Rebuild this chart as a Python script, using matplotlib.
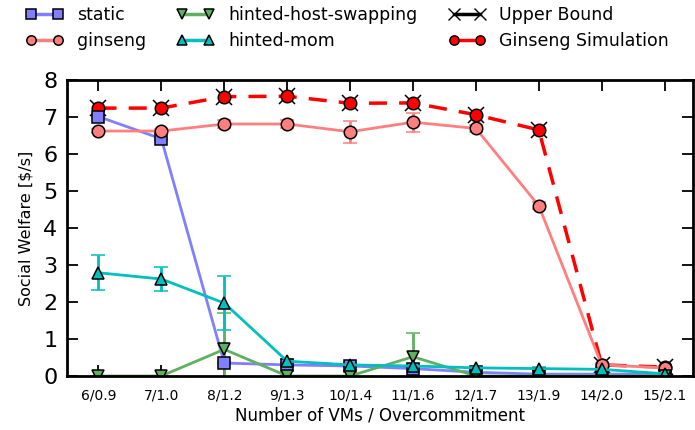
import matplotlib
matplotlib.use("Agg")
import matplotlib.pyplot as plt
from matplotlib.lines import Line2D
import numpy as np

labels = ["6/0.9", "7/1.0", "8/1.2", "9/1.3", "10/1.4", "11/1.6", "12/1.7", "13/1.9", "14/2.0", "15/2.1"]

static = [7.01, 6.41, 0.35, 0.30, 0.27, 0.20, 0.10, 0.05, 0.05, 0.05]
static_err = [0.03, 0.03, 0.03, 0.03, 0.03, 0.03, 0.02, 0.02, 0.02, 0.02]

ginseng = [6.62, 6.62, 6.81, 6.81, 6.60, 6.86, 6.69, 4.60, 0.30, 0.22]
ginseng_err = [0.05, 0.05, 0.10, 0.10, 0.29, 0.26, 0.10, 0.10, 0.05, 0.05]

hinted_swap = [0.0, 0.0, 0.72, 0.0, 0.0, 0.52, 0.0, 0.0, 0.0, 0.0]
hinted_swap_err = [0.0, 0.0, 0.98, 0.0, 0.0, 0.64, 0.0, 0.0, 0.0, 0.0]

hinted_mom = [2.79, 2.62, 1.97, 0.40, 0.30, 0.27, 0.22, 0.20, 0.18, 0.06]
hinted_mom_err = [0.47, 0.33, 0.73, 0.05, 0.05, 0.05, 0.03, 0.03, 0.03, 0.02]

upper_bound = [7.24, 7.24, 7.55, 7.56, 7.37, 7.38, 7.06, 6.65, 0.30, 0.24]
simulation = [7.24, 7.24, 7.55, 7.56, 7.37, 7.38, 7.06, 6.65, 0.30, 0.24]

x = np.arange(len(labels))

fig = plt.figure(figsize=(6.95, 4.30), dpi=100)
ax = fig.add_axes([0.0964, 0.1256, 0.9006, 0.6884])

styles = [
    ("static", static, static_err, "#7f7fff", "s"),
    ("ginseng", ginseng, ginseng_err, "#ff7f7f", "o"),
    ("hinted-host-swapping", hinted_swap, hinted_swap_err, "#5fb05f", "v"),
    ("hinted-mom", hinted_mom, hinted_mom_err, "#00bfbf", "^"),
]

handles = []
names = []
for name, values, errors, color, marker in styles:
    ax.errorbar(x, values, yerr=errors, color=color, marker=marker,
                markerfacecolor=color, markersize=9, markeredgecolor="black",
                markeredgewidth=1.1, linewidth=2, capsize=5, capthick=2, elinewidth=2)
    handles.append(Line2D([], [], color=color, marker=marker, markerfacecolor=color,
                          markersize=9, markeredgecolor="black", markeredgewidth=1.1,
                          linewidth=2.5))
    names.append(name)

ax.plot(x, upper_bound, linestyle="none", marker="x", color="black",
        markersize=11, markeredgewidth=1.1)
ax.plot(x, simulation, color="red", linestyle=(0, (5.2, 3.5)), linewidth=2.5,
        marker="o", markersize=9, markerfacecolor="red",
        markeredgecolor="black", markeredgewidth=1.1)

handles += [
    Line2D([], [], color="black", marker="x", markersize=11, linewidth=2.5),
    Line2D([], [], color="red", marker="o", markersize=9, markerfacecolor="red",
           markeredgecolor="black", linewidth=2.5),
]
names += ["Upper Bound", "Ginseng Simulation"]
fig.legend(handles, names, loc="upper left", bbox_to_anchor=(26 / 695, 0.985), ncol=3,
           frameon=False, fontsize=12.5, numpoints=2, markerscale=0.75,
           handlelength=2.13, handletextpad=0.8, columnspacing=1.8,
           labelspacing=0.45, borderpad=0, borderaxespad=0)

ax.set_xlim(-0.5, 9.45)
ax.set_ylim(0, 8)
ax.set_xticks(x)
ax.set_xticklabels(labels, fontsize=10)
ax.set_yticks(range(9))
ax.tick_params(axis="y", labelsize=16, pad=7)
ax.tick_params(direction="in", length=8, width=1.3, top=True, right=True)
ax.tick_params(axis="x", pad=9)
for spine in ax.spines.values():
    spine.set_linewidth(2)
ax.set_xlabel("Number of VMs / Overcommitment", fontsize=12, labelpad=3)
ax.set_ylabel("Social Welfare [$/s]", fontsize=11.5, labelpad=7)

fig.savefig("out.png", dpi=100)
